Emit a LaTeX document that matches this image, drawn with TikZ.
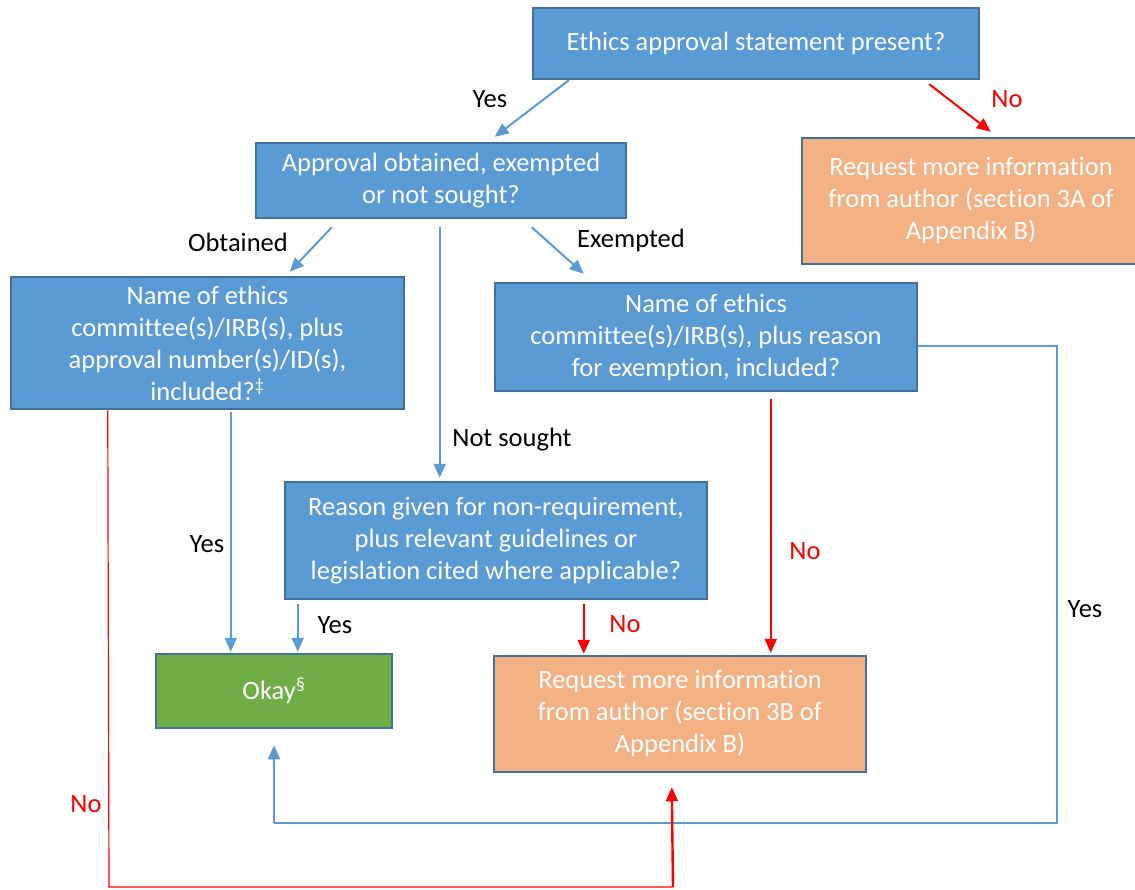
\documentclass[tikz,border=0pt]{standalone}
\usepackage{fontspec}
\setmainfont[Ligatures={NoCommon}]{Carlito}
\usetikzlibrary{arrows.meta,calc}
\definecolor{boxblue}{HTML}{5B9BD5}
\definecolor{edgeblue}{HTML}{41719C}
\definecolor{boxorange}{HTML}{F4B183}
\definecolor{boxgreen}{HTML}{70AD47}
\definecolor{linered}{HTML}{FF0000}
\begin{document}
\begin{tikzpicture}[x=1pt,y=-1pt,
 every node/.style={font=\fontsize{26.5}{32}\selectfont},
 box/.style={draw=edgeblue, line width=2.5pt, text=white, align=center, inner sep=0pt, anchor=center},
 qbox/.style={box, fill=boxblue},
 obox/.style={box, fill=boxorange},
 gbox/.style={box, fill=boxgreen},
 tip/.style={-{Triangle[length=14pt,width=12pt]}},
 barrow/.style={draw=boxblue, line width=2pt, tip},
 rarrow/.style={draw=linered, line width=2pt, tip},
 bthin/.style={draw=boxblue, line width=1.2pt},
 rthin/.style={draw=linered, line width=1.2pt},
 lbl/.style={text=black},
 rlbl/.style={text=linered}]
\useasboundingbox[fill=white] (0,0) rectangle (1135,889);

% boxes
\node[qbox, minimum width=446pt, minimum height=71pt] (e1) at (756,43.5) {Ethics approval statement present?};
\node[qbox, minimum width=370pt, minimum height=75pt] (a2) at (441,180.5) {Approval obtained, exempted\\or not sought?};
\node[obox, minimum width=338pt, minimum height=126pt] (r3a) at (971,201) {Request more information\\from author (section 3A of\\Appendix B)};
\node[qbox, minimum width=393pt, minimum height=132pt] (n1) at (207.5,343) {Name of ethics\\committee(s)/IRB(s), plus\\approval number(s)/ID(s),\\included?\textsuperscript{‡}};
\node[qbox, minimum width=422pt, minimum height=108pt] (n2) at (706,337) {Name of ethics\\committee(s)/IRB(s), plus reason\\for exemption, included?};
\node[qbox, minimum width=422pt, minimum height=117pt] (rs) at (496,540.5) {Reason given for non-requirement,\\plus relevant guidelines or\\legislation cited where applicable?};
\node[gbox, minimum width=236pt, minimum height=74pt] (ok) at (274,691) {Okay\textsuperscript{§}};
\node[obox, minimum width=372pt, minimum height=116pt] (r3b) at (680,714) {Request more information\\from author (section 3B of\\Appendix B)};

% connectors
\draw[barrow] ([xshift=37pt]e1.south west) -- ([xshift=240pt,yshift=5pt]a2.north west);
\node[lbl] (lyes1) at (490,99) {Yes};
\draw[rarrow] ([xshift=-51pt,yshift=-4pt]e1.south east) -- ([xshift=190pt,yshift=5pt]r3a.north west);
\node[rlbl] (lno1) at (1007,99) {No};

\draw[barrow] ([xshift=77pt,yshift=-8pt]a2.south west) -- ([xshift=280pt,yshift=4pt]n1.north west);
\node[lbl] (lobt) at (238,242) {Obtained};
\draw[barrow] ([xshift=185pt,yshift=-8pt]a2.south west) -- ([xshift=156pt,yshift=3pt]rs.north west);
\node[lbl] (lnot) at (512,440) {Not sought};
\draw[barrow] ([xshift=277pt,yshift=-8pt]a2.south west) -- ([xshift=90pt,yshift=8pt]n2.north west);
\node[lbl] (lexe) at (631,240) {Exempted};

\draw[barrow] ([xshift=221pt,yshift=-2pt]n1.south west) -- ([xshift=76pt,yshift=1pt]ok.north west);
\node[lbl] (lyes2) at (207,544) {Yes};
\draw[barrow] ([xshift=14pt,yshift=-4pt]rs.south west) -- ([xshift=143pt,yshift=1pt]ok.north west);
\node[lbl] (lyes3) at (335,625) {Yes};
\draw[rarrow] ([xshift=300pt,yshift=-4pt]rs.south west) -- ([xshift=91pt,yshift=1pt]r3b.north west);
\node[rlbl] (lno2) at (625,624) {No};
\draw[rarrow] ([xshift=277pt,yshift=-7pt]n2.south west) -- ([xshift=278pt,yshift=2pt]r3b.north west);
\node[rlbl] (lno3) at (805,551) {No};

% Yes loop from n2 back to Okay
\coordinate (c1) at (1057,346);
\coordinate (c2) at (1057,823);
\coordinate (c3) at (274,823);
\draw[bthin] ([yshift=-9pt]n2.east) -- (c1) -- (c2) -- (c3);
\draw[bthin, tip, line width=1.6pt] (c3) -- ([yshift=-16pt]ok.south);
\node[lbl] (lyes4) at (1085,609) {Yes};

% No loop from n1 to request 3B
\coordinate (d1) at (109,887);
\coordinate (d2) at (673,887);
\draw[rthin] ([xshift=98pt]n1.south west) -- (d1) -- (d2);
\draw[rarrow, line width=2.4pt] (d2) -- ([xshift=179pt,yshift=-14pt]r3b.south west);
\node[rlbl] (lno4) at (86,804) {No};
\end{tikzpicture}
\end{document}
